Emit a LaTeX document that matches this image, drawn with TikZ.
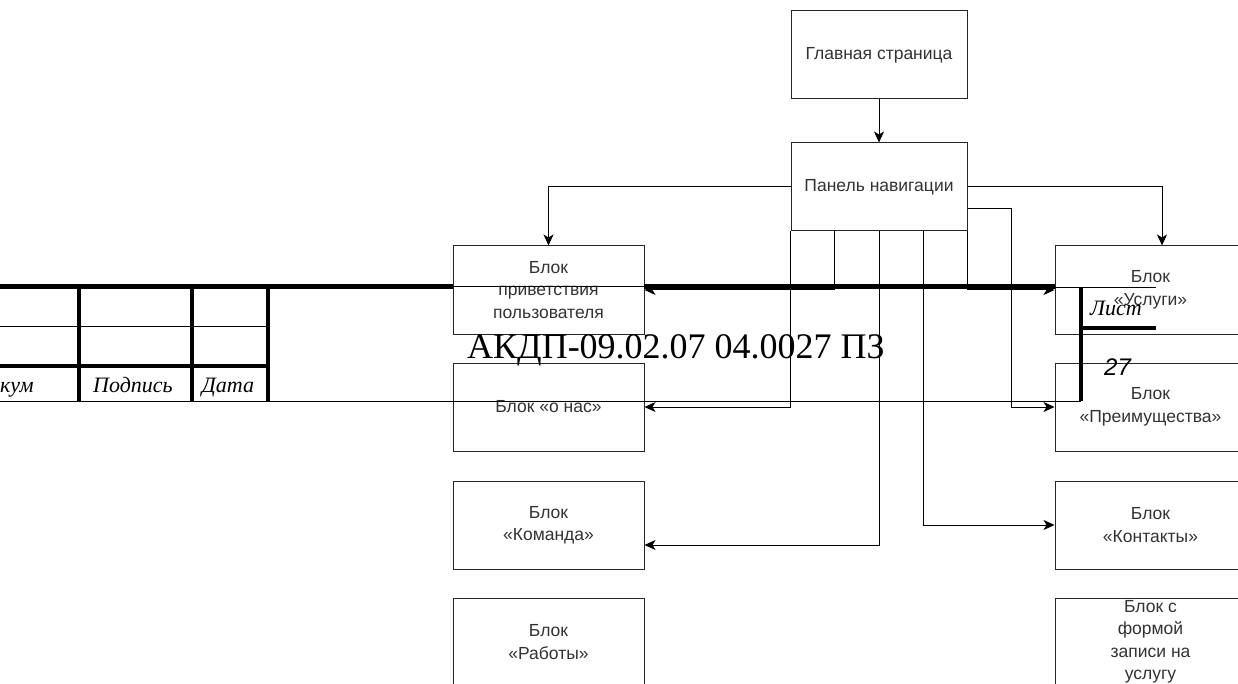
\documentclass[tikz,border=0pt]{standalone}
\usepackage{fontspec}
\setmainfont{Liberation Sans}
\newfontfamily\gostfont{Liberation Serif}
\usetikzlibrary{positioning,arrows.meta,calc}
\definecolor{ink}{HTML}{333333}
\definecolor{edge}{HTML}{262626}
\tikzset{
  link/.style={-{Stealth[length=11pt,width=10pt,inset=3pt]}, line width=1pt, color=black},
  blk/.style={draw=edge, fill=white, line width=1pt, minimum width=#1, minimum height=88pt,
    align=center, inner sep=1pt, text=ink, font=\fontsize{17.5}{22.5}\selectfont},
  blk/.default=191pt,
  frm/.style={line width=4.5pt, color=black},
  frmthin/.style={line width=1pt, color=black},
  gost/.style={font=\gostfont\itshape\fontsize{22}{24}\selectfont, text=black, inner sep=0pt},
}

\begin{document}
\begin{tikzpicture}[x=1pt,y=-1pt]
  \clip (0,0) rectangle (1238,684);
  \node[blk=176pt] (home) at (879,55) {Главная страница};
  \node[blk=176pt] (nav) at (879,187) {Панель навигации};
  \node[blk] (welcome) at (548.5,290) {Блок\\приветствия\\пользователя};
  \node[blk] (about) at (548.5,407) {Блок «о нас»};
  \node[blk] (team) at (548.5,525) {Блок\\«Команда»};
  \node[blk] (works) at (548.5,642) {Блок\\«Работы»};
  \node[blk] (services) at (1150.5,290) {Блок\\«Услуги»};
  \node[blk] (benefits) at (1150.5,407) {Блок\\«Преимущества»};
  \node[blk] (contacts) at (1150.5,525) {Блок\\«Контакты»};
  \node[blk] (form) at (1150.5,642) {Блок с\\формой\\записи на\\услугу};

  \draw[link] (home) -- (nav);
  \draw[link] (nav.west) -| (welcome.north);
  \draw[link] (nav.east) -| ([xshift=11.5pt]services.north);
  \draw[link] ([yshift=-22pt]nav.east) -- ++(44,0) |- (benefits.west);
  \draw[link] (nav.south west) |- (about.east);
  \draw[link] ($(nav.south west)!.25!(nav.south east)$) |- (welcome.east);
  \draw[link] (nav.south) |- ([yshift=-20pt]team.east);
  \draw[link] ($(nav.south west)!.75!(nav.south east)$) |- (contacts.west);
  \draw[link] (nav.south east) |- (services.west);

  \draw[frm] (0,286.5) -- (453,286.5);
  \draw[frmthin] (453,287) -- (644,287);
  \draw[frm] (644,286.5) -- (1055,286.5);
  \draw[frmthin] (1055,288) -- (1156,288);
  \draw[frm] (1081,288) -- (1081,401);
  \draw[frm] (1081,328) -- (1156,328);
  \draw[frmthin] (0,401) -- (1081,401);
  \draw[frmthin] (0,326) -- (268,326);
  \draw[frm] (0,366) -- (268,366);
  \foreach \x in {79,192,268} \draw[frm] (\x,286.5) -- (\x,401);

  \node[gost,anchor=base west] (docum) at (0,392) {кум};
  \node[gost,anchor=base] (sign) at (133,392) {Подпись};
  \node[gost,anchor=base] (date) at (228,392) {Дата};
  \node[gost,anchor=base west] (sheet) at (1090,315) {Лист};
  \node[font=\itshape\fontsize{24}{24}\selectfont,anchor=base west,inner sep=0pt] (sheetno) at (1104,375) {27};
  \node[font=\gostfont\fontsize{36}{36}\selectfont,anchor=base west,inner sep=0pt] (code) at (467,358) {АКДП-09.02.07 04.0027 ПЗ};
\end{tikzpicture}
\end{document}
